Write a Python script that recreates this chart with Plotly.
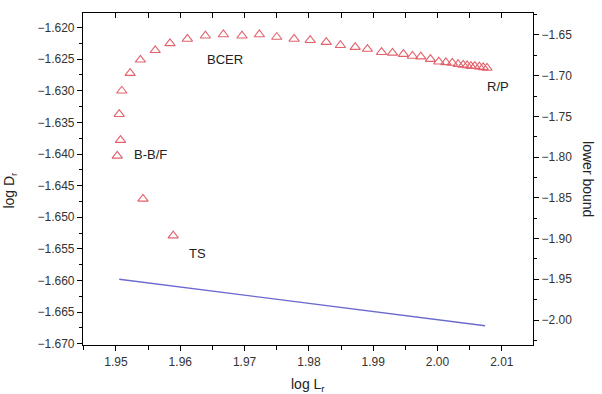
import plotly.graph_objects as go

# Data
log_L = [1.9589, 1.9542, 1.9502, 1.9507, 1.9505, 1.9509, 1.9522, 1.9538, 1.9561,
         1.9584, 1.9611, 1.9639, 1.9667, 1.9696, 1.9723, 1.9750, 1.9777, 1.9802,
         1.9827, 1.9849, 1.9872, 1.9891, 1.9913, 1.9930, 1.9947, 1.9961, 1.9974,
         1.9989, 2.0002, 2.0013, 2.0023, 2.0032, 2.0040, 2.0046, 2.0052, 2.0058,
         2.0065, 2.0071, 2.0077]
log_D = [-1.6529, -1.6471, -1.6403, -1.6378, -1.6337, -1.6300, -1.6272, -1.6251, -1.6236,
         -1.6225, -1.6218, -1.6213, -1.6211, -1.6213, -1.6211, -1.6215, -1.6218, -1.6220,
         -1.6223, -1.6228, -1.6231, -1.6234, -1.6239, -1.6240, -1.6242, -1.6245, -1.6246,
         -1.6250, -1.6254, -1.6255, -1.6256, -1.6258, -1.6259, -1.6260, -1.6261, -1.6261,
         -1.6262, -1.6263, -1.6264]

lb_x = [1.9505, 2.0074]
lb_y = [-1.950, -2.007]

labels = ["BCER", "R/P", "B-B/F", "TS"]
label_x = [1.9670, 2.0094, 1.9553, 1.9626]
label_y = [-1.6250, -1.6294, -1.6401, -1.6557]

FONT = "Liberation Sans, Arial, sans-serif"
TICKC = "#333333"

fig = go.Figure()
fig.add_trace(go.Scatter(
    x=log_L, y=log_D, mode="markers",
    marker=dict(symbol="triangle-up-open", size=9, color="#e2626c",
                line=dict(width=1.1, color="#e2626c")),
    xaxis="x", yaxis="y", showlegend=False))
fig.add_trace(go.Scatter(
    x=lb_x, y=lb_y, mode="lines",
    line=dict(color="#6a6ad0", width=1.4),
    xaxis="x2", yaxis="y2", showlegend=False))

for t, xx, yy in zip(labels, label_x, label_y):
    fig.add_annotation(x=xx, y=yy, xref="x", yref="y", text=t, showarrow=False,
                       font=dict(family=FONT, size=13, color="#222222"))

fig.add_annotation(x=-0.163, y=0.467, xref="paper", yref="paper",
                   xanchor="center", yanchor="middle",
                   text="log D<sub>r</sub>", showarrow=False, textangle=-90,
                   font=dict(family=FONT, size=14, color="#222222"))
fig.add_annotation(x=1.122, y=0.50, xref="paper", yref="paper",
                   xanchor="center", yanchor="middle",
                   text="lower bound", showarrow=False, textangle=90,
                   font=dict(family=FONT, size=14, color="#222222"))
fig.add_annotation(x=0.5, y=-0.12, xref="paper", yref="paper",
                   xanchor="center", yanchor="middle",
                   text="log L<sub>r</sub>", showarrow=False,
                   font=dict(family=FONT, size=14, color="#222222"))

axis_common = dict(showgrid=False, zeroline=False, showline=True,
                   linecolor="black", linewidth=1.2, tickcolor="black",
                   tickfont=dict(family=FONT, size=12, color=TICKC))

fig.update_layout(
    width=602, height=394,
    margin=dict(l=83, r=69, t=13, b=49),
    paper_bgcolor="white", plot_bgcolor="white",
    xaxis=dict(range=[1.94487, 2.01485], dtick=0.01, tick0=1.95, tickformat=".2f",
               ticks="outside", ticklen=5,
               minor=dict(dtick=0.005, tick0=1.95, ticks="outside", ticklen=4,
                          tickcolor="black"),
               **axis_common),
    xaxis2=dict(overlaying="x", matches="x", side="top", anchor="y",
                showticklabels=False, ticks="inside", ticklen=5, dtick=0.005,
                tick0=1.95, **axis_common),
    yaxis=dict(range=[-1.6702, -1.6177], dtick=0.005, tick0=-1.62, tickformat=".3f",
               ticks="outside", ticklen=5,
               minor=dict(dtick=0.0025, tick0=-1.62, ticks="outside", ticklen=3,
                          tickcolor="black"),
               **axis_common),
    yaxis2=dict(overlaying="y", side="right", anchor="x",
                range=[-2.0307, -1.6230], dtick=0.05, tick0=-2.0, tickformat=".2f",
                ticks="outside", ticklen=5,
                minor=dict(dtick=0.025, tick0=-2.0, ticks="outside", ticklen=3,
                           tickcolor="black"),
                **axis_common),
)

fig.write_html("out.html")
